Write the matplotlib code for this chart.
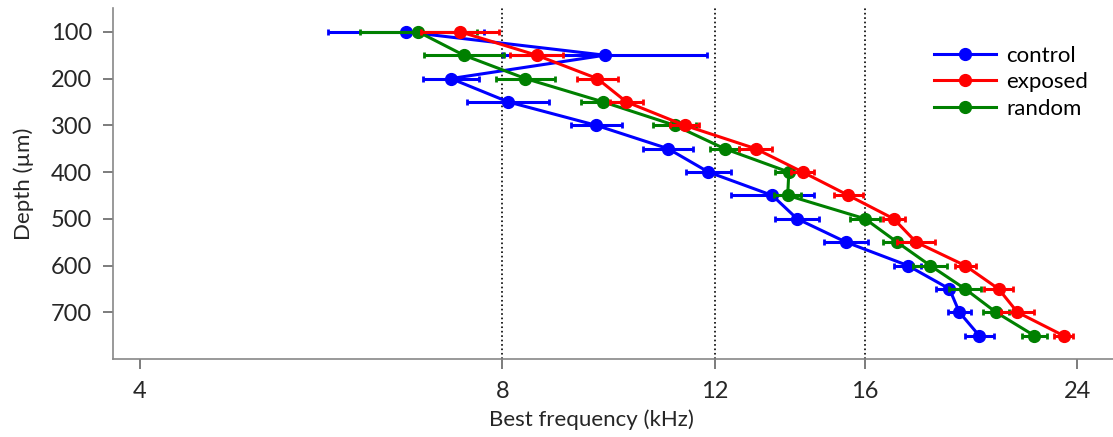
import numpy as np
import matplotlib.pyplot as plt
from matplotlib.ticker import NullLocator
from matplotlib.lines import Line2D

plt.rcParams['font.family'] = ['Lato', 'DejaVu Sans']

depth = [100, 150, 200, 250, 300, 350, 400, 450, 500, 550, 600, 650, 700, 750]

# best frequency (kHz) and s.e.m. in octaves
bf_control = [6.65, 9.73, 7.25, 8.09, 9.57, 10.98, 11.86, 13.40, 14.05, 15.43, 17.36, 18.80, 19.16, 19.90]
err_control = [0.215, 0.281, 0.076, 0.113, 0.070, 0.070, 0.061, 0.114, 0.061, 0.060, 0.037, 0.037, 0.032, 0.040]

bf_exposed = [7.38, 8.54, 9.59, 10.14, 11.33, 12.98, 14.20, 15.50, 16.90, 17.64, 19.37, 20.65, 21.41, 23.38]
err_exposed = [0.107, 0.074, 0.056, 0.045, 0.040, 0.046, 0.032, 0.039, 0.030, 0.053, 0.029, 0.039, 0.046, 0.025]

bf_random = [6.81, 7.43, 8.36, 9.70, 11.12, 12.23, 13.83, 13.80, 16.00, 17.01, 18.12, 19.37, 20.55, 22.11]
err_random = [0.161, 0.110, 0.081, 0.061, 0.060, 0.041, 0.039, 0.037, 0.041, 0.039, 0.046, 0.044, 0.036, 0.034]

xticks = [4, 8, 12, 16, 24]
grid_freqs = [8, 12, 16]

fig = plt.figure(figsize=(11.13, 4.37), dpi=100)
ax = fig.add_axes([113/1113, 1 - 359/437, 1 - 113/1113, (359 - 8)/437])


def octave_err(f, e):
    f = np.asarray(f)
    e = np.asarray(e)
    return [f - f * 2**(-e), f * 2**e - f]


series = [
    ("control", bf_control, err_control, "#0000ff", 3),
    ("random", bf_random, err_random, "#008000", 4),
    ("exposed", bf_exposed, err_exposed, "#ff0000", 5),
]
colors = {}
for name, bf, err, col, z in series:
    ax.errorbar(bf, depth, xerr=octave_err(bf, err), color=col, marker='o',
                ms=8.5, lw=2.2, elinewidth=2.2, capsize=2.5, capthick=2,
                zorder=z)
    colors[name] = col

for f in grid_freqs:
    ax.axvline(f, color='black', ls=':', lw=1.2, zorder=1)

ax.set_xscale('log', base=2)
ax.set_xlim(3.80, 25.7)
ax.set_ylim(800, 49)
ax.set_xticks(xticks)
ax.set_xticklabels([str(t) for t in xticks])
ax.xaxis.set_minor_locator(NullLocator())
ax.set_yticks(range(100, 800, 100))

for s in ['top', 'right']:
    ax.spines[s].set_visible(False)
for s in ['left', 'bottom']:
    ax.spines[s].set_color('#888888')
    ax.spines[s].set_linewidth(1.2)
ax.tick_params(axis='both', colors='#666666', labelcolor='#262626',
               labelsize=17, length=7, width=1.2)
ax.tick_params(axis='x', pad=9)
ax.tick_params(axis='y', pad=8)

ax.set_xlabel("Best frequency (kHz)", fontsize=16, color='#262626')
ax.xaxis.set_label_coords(0.478, -0.143)
ax.set_ylabel("Depth (\u00b5m)", fontsize=16, color='#262626', labelpad=12)

order = ["control", "exposed", "random"]
leg_lines = [Line2D([], [], color=colors[n], marker='o', ms=8.5, lw=2.2) for n in order]
ax.legend(leg_lines, order, loc='upper right',
          bbox_to_anchor=(0.995, 0.95), frameon=False, fontsize=16,
          handlelength=2.8, labelspacing=0.3, handletextpad=0.45)

fig.savefig("out.png", dpi=100)
